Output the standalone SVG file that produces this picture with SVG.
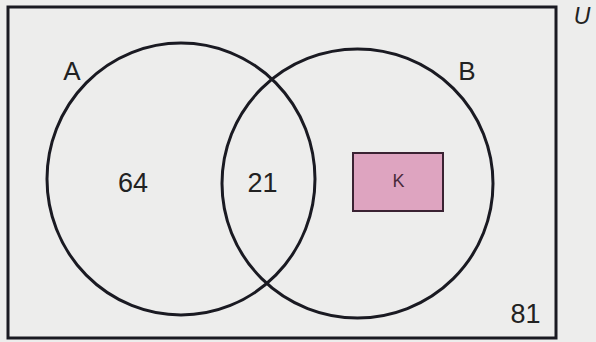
<svg xmlns="http://www.w3.org/2000/svg" width="596" height="342" viewBox="0 0 596 342">
<style>
.ln{fill:none;stroke:#1a1a22;stroke-width:3}
.t{font-family:"Liberation Sans",Arial,sans-serif;fill:#222;text-anchor:middle}
</style>
<rect x="0" y="0" width="596" height="342" fill="#ededec"/>
<g id="universe">
<rect x="8" y="7" width="548" height="331" fill="#f1f1f0" class="ln"/>
<text class="t" x="582" y="24" font-size="23" font-style="italic">U</text>
</g>
<g id="setA">
<ellipse cx="181" cy="179" rx="134" ry="136" class="ln"/>
<text class="t" x="72" y="80" font-size="26">A</text>
</g>
<g id="setB">
<ellipse cx="357.5" cy="183.5" rx="135.5" ry="134.5" class="ln"/>
<text class="t" x="467" y="80" font-size="26">B</text>
</g>
<g id="K">
<rect x="353" y="153" width="90" height="58" fill="#dea4c0" stroke="#3a2232" stroke-width="2"/>
<text class="t" x="398.5" y="187" font-size="18" fill="#4a2a3a" style="fill:#4a2a3a">K</text>
</g>
<g id="values">
<text class="t" x="133" y="192" font-size="27">64</text>
<text class="t" x="262.5" y="192" font-size="27">21</text>
<text class="t" x="525.5" y="323" font-size="27">81</text>
</g>
<g id="connectors"/>
</svg>
